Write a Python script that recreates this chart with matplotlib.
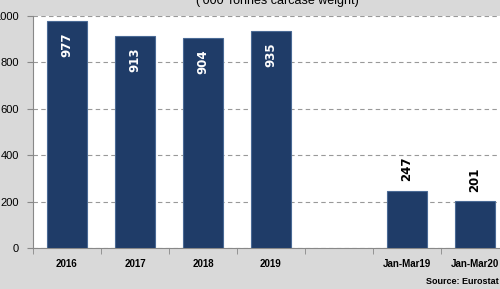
import matplotlib.pyplot as plt
import numpy as np

# Production ('000 tonnes carcase weight)
categories = ['2016', '2017', '2018', '2019', '', 'Jan-Mar19', 'Jan-Mar20']
values = [977, 913, 904, 935, None, 247, 201]
yticks = [0, 200, 400, 600, 800, 1000]

bg = '#d9d9d9'
bar_color = '#1f3c68'

fig = plt.figure(figsize=(5, 2.89), dpi=100, facecolor=bg)
ax = fig.add_axes([0.066, 0.142, 0.952, 0.803])
ax.set_facecolor('white')

x = np.arange(len(categories))
for xi, v in zip(x, values):
    if v is None:
        continue
    ax.bar(xi, v, width=0.58, color=bar_color, edgecolor='#4a6a95', linewidth=0.8, zorder=3)
    if v > 500:
        ax.annotate(str(v), (xi, v), xytext=(0, -8), textcoords='offset points',
                    rotation=90, ha='center', va='top', color='white',
                    fontsize=8.5, fontweight='bold', zorder=4)
    else:
        ax.annotate(str(v), (xi, v), xytext=(0, 7), textcoords='offset points',
                    rotation=90, ha='center', va='bottom', color='black',
                    fontsize=8.5, fontweight='bold', zorder=4)

ax.set_xlim(-0.5, len(categories) - 0.5)
ax.set_ylim(0, 1000)
ax.set_yticks(yticks)
ax.set_yticklabels([str(t) for t in yticks], fontsize=8, family='Liberation Sans')
ax.set_xticks(x)
ax.set_xticklabels(categories, fontsize=7, fontweight='bold', family='Liberation Sans')
ax.set_xticks(np.arange(-0.5, len(categories)), minor=True)
ax.tick_params(axis='x', which='major', length=0, pad=8)
ax.tick_params(axis='x', which='minor', length=4, color='#888888')
ax.tick_params(axis='y', length=4, color='#888888', pad=6)

ax.grid(axis='y', linestyle=(0, (4, 3)), color='#999999', linewidth=0.8, zorder=0)
for s in ['top', 'right']:
    ax.spines[s].set_visible(False)
ax.spines['left'].set_color('#888888')
ax.spines['bottom'].set_color('#888888')

fig.text(0.554, 0.995, "('000 Tonnes carcase weight)", ha='center', va='center',
         fontsize=9, family='Liberation Sans')
fig.text(0.997, 0.025, 'Source: Eurostat', ha='right', va='center',
         fontsize=6.5, fontweight='bold', family='Liberation Sans')

fig.savefig('out.png', dpi=100, facecolor=bg)
